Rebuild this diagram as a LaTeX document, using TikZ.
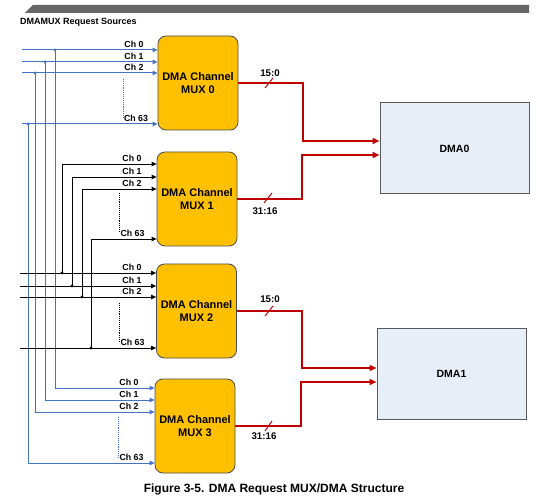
\documentclass[tikz,border=0pt]{standalone}
\usepackage{fontspec}
\setmainfont{Liberation Sans}
\usetikzlibrary{arrows.meta,calc}
\definecolor{lblue}{RGB}{68,114,196}
\definecolor{muxfill}{RGB}{255,192,0}
\definecolor{dmafill}{RGB}{232,238,248}
\definecolor{dred}{RGB}{192,0,0}
\begin{document}
\begin{tikzpicture}[x=1pt,y=-1pt,
  mux/.style={draw=black!70, fill=muxfill, rounded corners=8pt, minimum width=80pt, minimum height=94pt, align=center, inner sep=0pt, line width=0.8pt, font=\bfseries\fontsize{11}{13.5}\selectfont},
  dma/.style={draw=black!65, fill=dmafill, minimum width=149pt, minimum height=91pt, line width=1pt, font=\bfseries\fontsize{10.5}{12}\selectfont},
  bl/.style={lblue, line width=1pt},
  bk/.style={black, line width=0.9pt},
  arr/.style={-{Triangle[width=4.5pt,length=5pt]}},
  rd/.style={dred, line width=1.7pt},
  rarr/.style={-{Triangle[width=6pt,length=7pt]}},
  slash/.style={dred, line width=1pt},
  ch/.style={font=\bfseries\fontsize{8.8}{10}\selectfont, inner sep=0.8pt, anchor=south},
  bus/.style={font=\bfseries\fontsize{9.7}{11}\selectfont, inner sep=0pt},
  dotn/.style={circle, fill, inner sep=0pt, minimum size=3.2pt},
  vdots/.style={densely dotted, line width=0.9pt}]

\useasboundingbox (0,0) rectangle (555,500);

% header bar and title
\fill[black!60] (33,5) -- (529,5) -- (529,13) -- (25,13) -- cycle;
\node[anchor=base west, inner sep=0pt, font=\bfseries\fontsize{9}{10}\selectfont] (hdr) at (20,24.5) {DMAMUX Request Sources};

% MUX blocks
\node[mux] (mux0) at (198,83) {DMA Channel\\MUX 0};
\node[mux] (mux1) at (197,199) {DMA Channel\\MUX 1};
\node[mux] (mux2) at (196.5,311) {DMA Channel\\MUX 2};
\node[mux] (mux3) at (195,426) {DMA Channel\\MUX 3};

% DMA blocks
\node[dma] (dma0) at (454.5,148.5) {DMA0};
\node[dma] (dma1) at (451.5,373.5) {DMA1};

% blue request lines (MUX0 and MUX3)
\foreach \i/\ya/\xv/\yb in {0/50/55/388, 1/62/45/400, 2/73/35/412, 63/124/28/463} {
  \coordinate (bs\i) at (22,\ya);
  \coordinate (bj\i) at (\xv,\ya);
  \coordinate (bc\i) at (\xv,\yb);
  \draw[bl,arr] (bs\i) -- (bs\i -| mux0.west);
  \draw[bl,arr] (bj\i) -- (bc\i) -- (bc\i -| mux3.west);
  \node[dotn, lblue] (bd\i) at (bj\i) {};
}

% black request lines (MUX1 and MUX2)
\foreach \i/\ya/\xv/\yb in {0/164/62/273, 1/177/72/286, 2/189/82/297, 63/239/91/348} {
  \coordinate (kj\i) at (\xv,\ya);
  \coordinate (kd\i) at (\xv,\yb);
  \coordinate (ks\i) at (20,\yb);
  \draw[bk,arr] (kd\i) -- (kj\i) -- (kj\i -| mux1.west);
  \draw[bk,arr] (ks\i) -- (ks\i -| mux2.west);
  \node[dotn] (kdot\i) at (kd\i) {};
}

% channel labels
\node[ch] (a0) at (134,49) {Ch 0};
\node[ch] (a1) at (134,61) {Ch 1};
\node[ch] (a2) at (134,72) {Ch 2};
\node[ch] (a63) at (136,123) {Ch 63};
\node[ch] (b0) at (132,163) {Ch 0};
\node[ch] (b1) at (132,176) {Ch 1};
\node[ch] (b2) at (132,188) {Ch 2};
\node[ch] (b63) at (132.5,238) {Ch 63};
\node[ch] (c0) at (132,272) {Ch 0};
\node[ch] (c1) at (132,285) {Ch 1};
\node[ch] (c2) at (132,296) {Ch 2};
\node[ch] (c63) at (132.5,347) {Ch 63};
\node[ch] (d0) at (129,387) {Ch 0};
\node[ch] (d1) at (129,399) {Ch 1};
\node[ch] (d2) at (129,411) {Ch 2};
\node[ch] (d63) at (131.5,462) {Ch 63};

% dotted continuation marks
\draw[lblue, vdots] (123,79) -- (123,118);
\draw[vdots] (119,193) -- (119,232);
\draw[vdots] (119,303) -- (119,342);
\draw[lblue, vdots] (118,417) -- (118,457);

% red buses to DMA0
\coordinate (t0) at (303,141);
\coordinate (e0) at (dma0.west |- t0);
\coordinate (t1) at (302,155);
\coordinate (e1) at (dma0.west |- t1);
\draw[rd,rarr] (mux0.east) -| (t0) -- (e0);
\draw[rd,rarr] (mux1.east) -| (t1) -- (e1);
\draw[slash] (265,88) -- (273,78);
\draw[slash] (264,203) -- (272,193);
\node[bus] (w0) at (270,73) {15:0};
\node[bus] (w1) at (265,211) {31:16};

% red buses to DMA1
\coordinate (t2) at (302,368);
\coordinate (e2) at (dma1.west |- t2);
\coordinate (t3) at (301,382);
\coordinate (e3) at (dma1.west |- t3);
\draw[rd,rarr] (mux2.east) -| (t2) -- (e2);
\draw[rd,rarr] (mux3.east) -| (t3) -- (e3);
\draw[slash] (265,316) -- (273,306);
\draw[slash] (265,431) -- (272,421);
\node[bus] (w2) at (270,299) {15:0};
\node[bus] (w3) at (264,436) {31:16};

% caption
\node[font=\bfseries\fontsize{12}{14}\selectfont, inner sep=0pt] (cap) at (274,489) {Figure 3-5. DMA Request MUX/DMA Structure};
\end{tikzpicture}
\end{document}
